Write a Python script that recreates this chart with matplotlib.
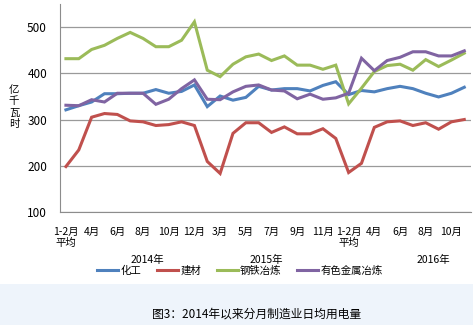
#!/usr/bin/env python3
import matplotlib
matplotlib.use('Agg')
import matplotlib.pyplot as plt
from matplotlib.patches import Rectangle

# 字体设置
plt.rcParams['font.family'] = ['Noto Sans CJK SC', 'DejaVu Sans']
plt.rcParams['axes.unicode_minus'] = False

# 数据: 2014年1-2月平均 ~ 2016年11月, 共32个点
months = (['1-2月\n平均'] + [f'{m}月' for m in range(3, 13)]) * 2 + \
         ['1-2月\n平均'] + [f'{m}月' for m in range(3, 12)]

huagong = [321, 330, 338, 356, 356, 357, 357, 365, 357, 361, 375,
           328, 351, 342, 348, 372, 364, 367, 367, 362, 374, 382,
           354, 363, 360, 367, 372, 367, 357, 349, 357, 370]
jiancai = [198, 234, 305, 313, 311, 297, 295, 287, 289, 295, 287,
           209, 183, 270, 293, 293, 272, 284, 269, 269, 280, 259,
           185, 205, 283, 295, 297, 287, 293, 279, 295, 300]
gangtie = [432, 432, 452, 461, 476, 489, 476, 458, 458, 472, 512,
           407, 393, 420, 436, 442, 428, 438, 418, 418, 409, 418,
           334, 368, 404, 417, 420, 407, 430, 415, 429, 444]
youse = [331, 330, 343, 338, 357, 357, 357, 333, 344, 367, 386,
         344, 343, 360, 372, 375, 364, 362, 345, 355, 344, 347,
         357, 433, 406, 428, 435, 447, 447, 438, 438, 449]

series = [('化工', huagong, '#4F81BD'),
          ('建材', jiancai, '#C0504D'),
          ('钢铁冶炼', gangtie, '#9BBB59'),
          ('有色金属冶炼', youse, '#8064A2')]

years = ['2014年', '2015年', '2016年']
year_pos = [6.3, 15.6, 28.6]

W, H = 473, 325
fig = plt.figure(figsize=(W / 100, H / 100), dpi=100)

# 底部浅蓝色标题栏
fig.patches.append(Rectangle((0, 0), 1, 1 - 284 / H, transform=fig.transFigure,
                             facecolor='#EEF4FB', edgecolor='none', zorder=0))

ax = fig.add_axes([59.5 / W, 1 - 211.7 / H, (470.7 - 59.5) / W, (211.7 - 4.3) / H])
x = list(range(len(months)))
for name, vals, color in series:
    ax.plot(x, vals, color=color, lw=2.2, label=name, solid_joinstyle='miter')

ax.set_xlim(-0.5, len(months) - 0.5)
ax.set_ylim(100, 550)
ax.set_yticks([100, 200, 300, 400, 500])
ax.set_xticks(x[::2])
ax.set_xticklabels(months[::2], linespacing=1.1)
ax.grid(axis='y', color='#9A9A9A', lw=0.9)
ax.set_axisbelow(True)
for s in ['top', 'right']:
    ax.spines[s].set_visible(False)
for s in ['left', 'bottom']:
    ax.spines[s].set_color('#8C8C8C')
ax.tick_params(axis='y', length=0, pad=9, labelsize=8.5)
ax.tick_params(axis='x', length=0, pad=11, labelsize=7.5)

# y轴单位
fig.text(14 / W, 1 - 107 / H, '亿\n千\n瓦\n时', ha='center', va='center',
         fontsize=7.5, linespacing=1.2)

# 年份
for yr, p in zip(years, year_pos):
    fig.text((66 + 12.85 * p) / W, 1 - 260 / H, yr, ha='center', va='center', fontsize=7.5)

fig.legend(loc='center', bbox_to_anchor=(240 / W, 1 - 271 / H), ncol=4, frameon=False,
           fontsize=7.5, handlelength=2.0, handletextpad=0.25, columnspacing=1.5)

fig.text(257 / W, 1 - 314 / H, '图3：2014年以来分月制造业日均用电量',
         ha='center', va='center', fontsize=8.5)

fig.savefig('out.png', dpi=100)
